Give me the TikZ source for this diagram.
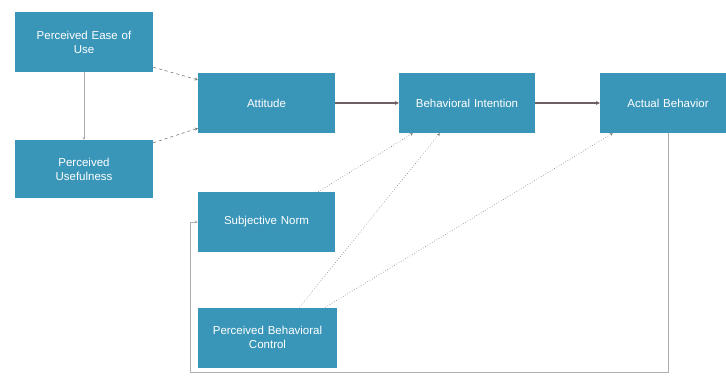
\documentclass[tikz,border=0pt]{standalone}
\usepackage{fontspec}
\setmainfont{Liberation Sans}
\usepackage{tikz}
\usetikzlibrary{calc,arrows.meta}

\definecolor{boxteal}{RGB}{58,150,185}
\definecolor{linegrey}{RGB}{120,120,120}
\definecolor{lightgrey}{RGB}{175,175,175}
\definecolor{arrowdark}{RGB}{110,95,100}

\begin{document}
\begin{tikzpicture}[x=1pt,y=-1pt,font=\fontsize{11.5}{14}\selectfont]
    \tikzstyle{model box}=[rectangle,fill=boxteal,text=white,align=center,inner sep=2,minimum width=137,minimum height=60,text width=132]
    \tikzstyle{main arrow}=[draw=arrowdark,line width=1.1,-{Stealth[length=4,width=4]}]
    \tikzstyle{thin arrow}=[draw=lightgrey,line width=0.6,-{Stealth[length=3,width=3]}]
    \tikzstyle{dashed arrow}=[draw=linegrey,line width=0.6,dashed,-{Stealth[length=3,width=3]}]
    \tikzstyle{dotted arrow}=[draw=linegrey,line width=0.6,dotted,-{Stealth[length=3,width=3]}]

    \useasboundingbox (0,0) rectangle (726,376);

    \node(peou)[model box,minimum width=138] at (84,42) {Perceived Ease of\\Use};
    \node(pu)[model box,minimum width=138,minimum height=58] at (84,169) {Perceived\\Usefulness};
    \node(att)[model box] at (266.5,103) {Attitude};
    \node(bi)[model box,minimum width=136] at (467,103) {Behavioral Intention};
    \node(ab)[model box,minimum width=136] at (668,103) {Actual Behavior};
    \node(sn)[model box] at (266.5,222) {Subjective Norm};
    \node(pbc)[model box,minimum width=139] at (267.5,337.5) {Perceived Behavioral\\Control};

    % antecedents of attitude
    \draw[thin arrow] (peou.south) -- (pu.north);
    \draw[dashed arrow] ($(peou.south east)+(0,-5)$) -- ($(att.north west)+(0,7)$);
    \draw[dashed arrow] ($(pu.north east)+(0,3)$) -- ($(att.south west)+(0,-5)$);

    % main path
    \draw[main arrow] (att.east) -- (bi.west);
    \draw[main arrow] (bi.east) -- (ab.west);

    % norms and control
    \draw[dotted arrow] ($(sn.north east)+(-17,0)$) -- ($(bi.south west)+(14,0)$);
    \draw[dotted arrow] ($(pbc.north)+(32,0)$) -- ($(bi.south west)+(41,0)$);
    \draw[dotted arrow] ($(pbc.north east)+(-12,0)$) -- ($(ab.south west)+(13,0)$);

    % feedback
    \coordinate(fb1) at (668,372);
    \coordinate(fb2) at (190,372);
    \coordinate(fb3) at (190,222);
    \draw[thin arrow] (ab.south) -- (fb1) -- (fb2) -- (fb3) -- (sn.west);
\end{tikzpicture}
\end{document}
